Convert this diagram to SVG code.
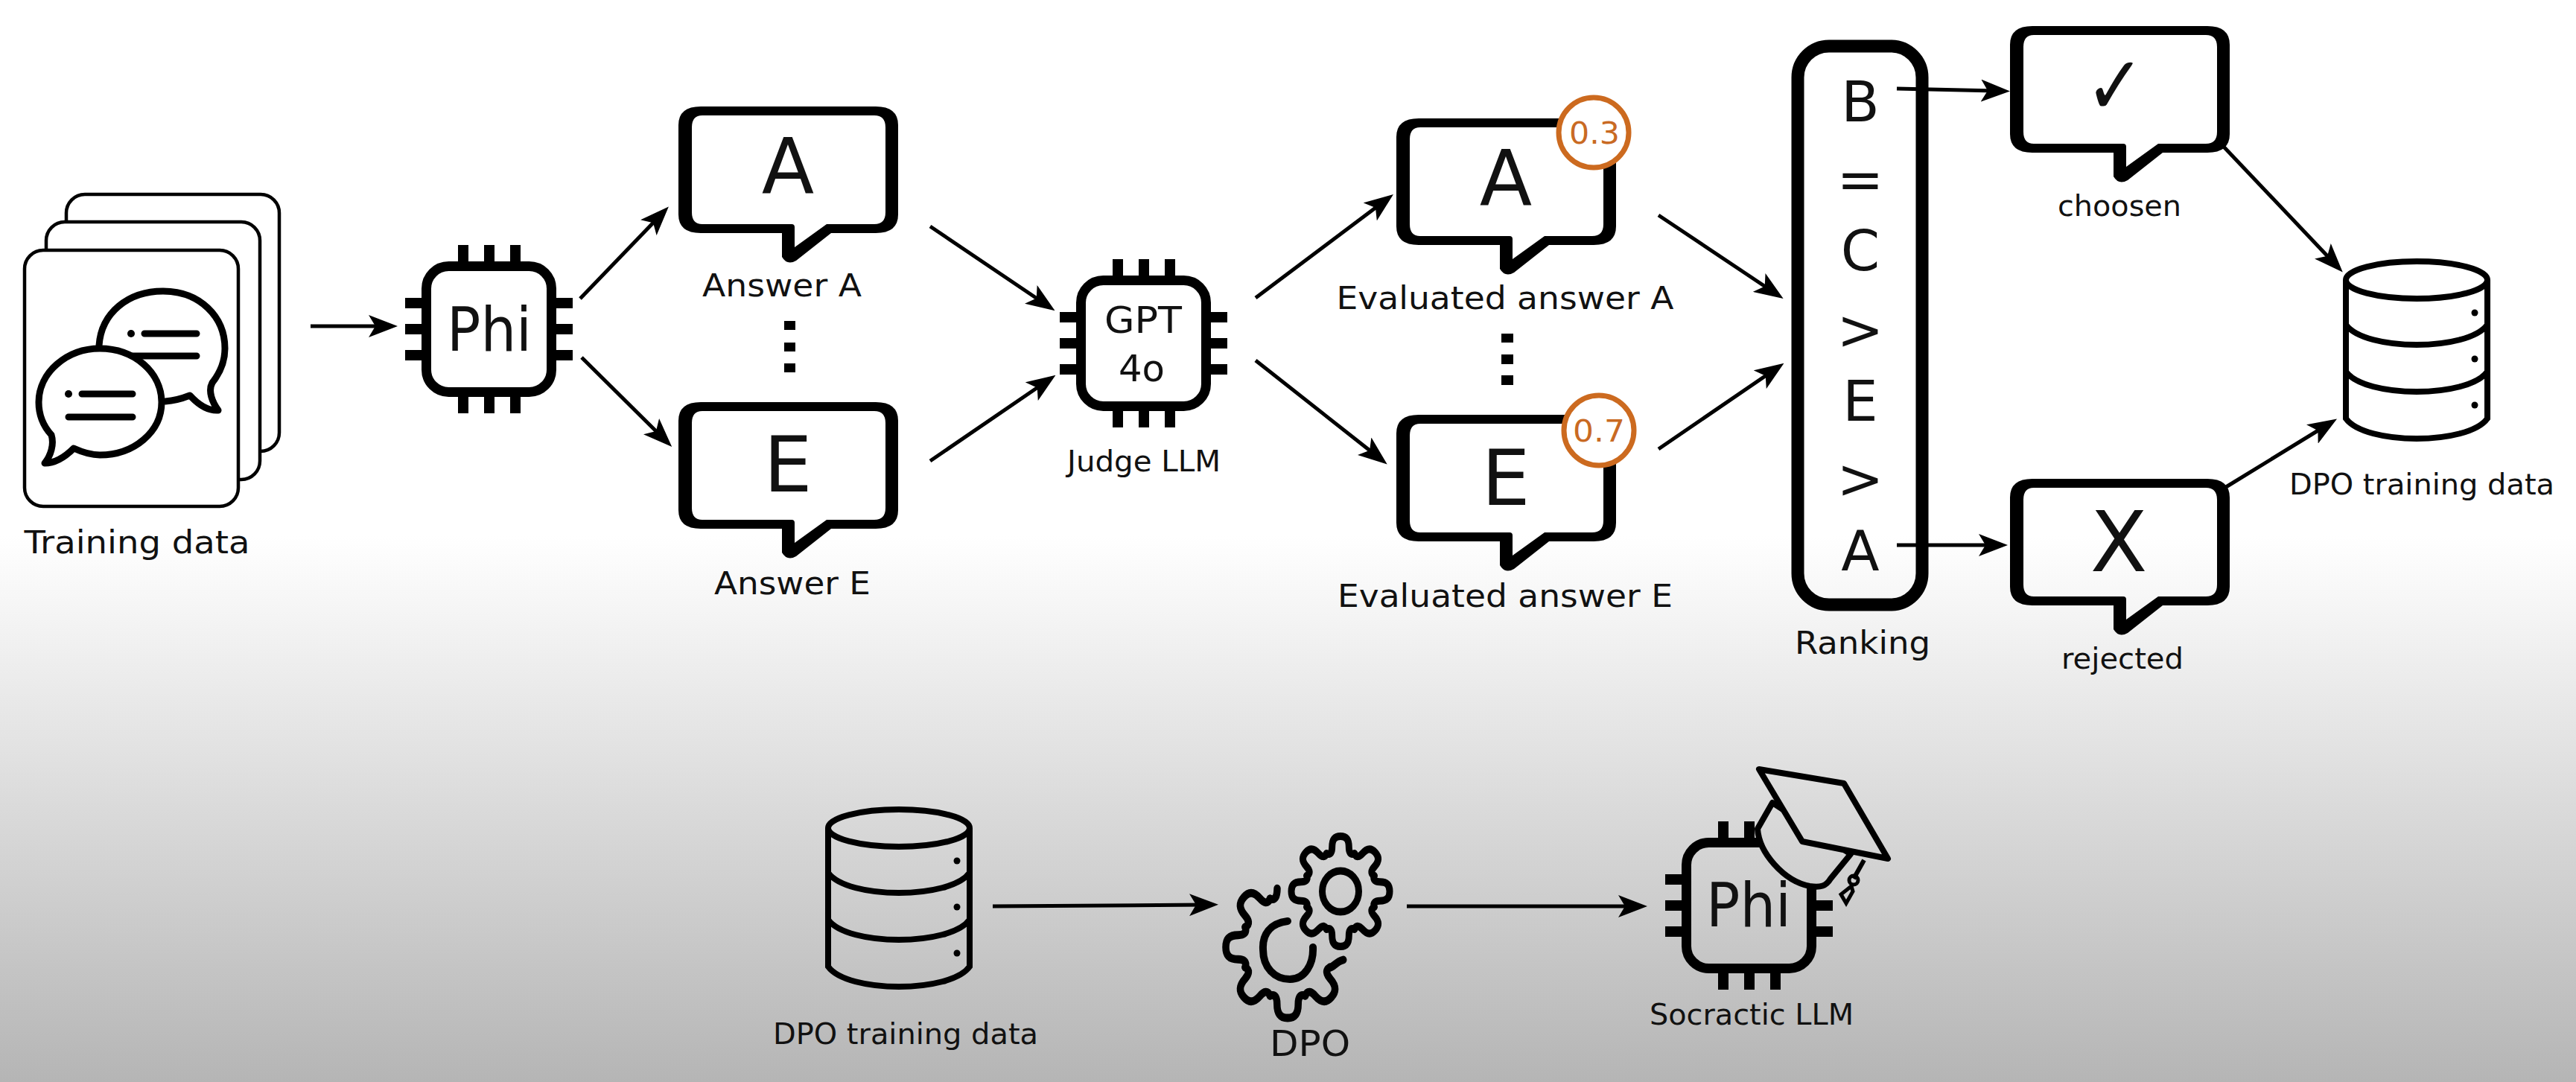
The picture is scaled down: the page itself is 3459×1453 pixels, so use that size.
<svg xmlns="http://www.w3.org/2000/svg" xmlns:xlink="http://www.w3.org/1999/xlink" width="3459" height="1453" viewBox="0 0 3459 1453">
<style>
text{font-family:"DejaVu Sans","Liberation Sans",sans-serif;fill:#111;text-anchor:middle}
.big{font-size:103px}.rk{font-size:75px}.lb{font-size:43px}.sm{font-size:39px}.ch{font-size:82px}.gp{font-size:50px}
.sc{font-size:41px;fill:#c96a23}
.card{fill:#fff;stroke:#000;stroke-width:4.5}
.ico{fill:none;stroke:#000;stroke-width:9;stroke-linecap:round;stroke-linejoin:round}
.gear{fill:none;stroke:#000;stroke-linecap:round;stroke-linejoin:round}
.badge{fill:#fff;stroke:#cc6a1f;stroke-width:7}
.cn{fill:none;stroke:#000;stroke-width:5;marker-end:url(#ah)}
.hat{fill:url(#bg);stroke:#000;stroke-width:8;stroke-linejoin:round}
</style>
<defs>
<linearGradient id="bg" gradientUnits="userSpaceOnUse" x1="0" y1="720" x2="0" y2="1453"><stop offset="0" stop-color="#fff"/><stop offset="1" stop-color="#b5b5b5"/></linearGradient>
<marker id="ah" markerUnits="userSpaceOnUse" markerWidth="39" markerHeight="30" refX="19" refY="15" orient="auto"><path d="M0,0L39,15L0,30L9,15Z"/></marker>
<path id="bubble" fill-rule="evenodd" d="M30,0H265Q295,0 295,25V145Q295,170 265,170H205L158,207Q146,214 139,202V170H30Q0,170 0,145V25Q0,0 30,0ZM32,12H263Q278,12 278,28V142Q278,158 263,158H199L156,189V162Q156,158 152,158H32Q18,158 18,142V28Q18,12 32,12Z"/>
<rect id="chipbody" x="6.5" y="6.5" width="168" height="169" rx="30" fill="none" stroke="#000" stroke-width="13"/>
<g id="chip"><use href="#chipbody"/>
<path d="M49-22h14v22h-14zM84-22h14v22h-14zM119-22h14v22h-14zM49,182h14v22h-14zM84,182h14v22h-14zM119,182h14v22h-14zM-22,49h22v14h-22zM-22,84h22v14h-22zM-22,119h22v14h-22zM181,49h22v14h-22zM181,84h22v14h-22zM181,119h22v14h-22z"/></g>
<g id="cyl"><g fill="none" stroke="#000" stroke-width="8"><ellipse cx="99" cy="29" rx="95" ry="25"/><path d="M4,29V215C30,251 168,251 194,215V29M4,89C30,125 168,125 194,89M4,152C30,188 168,188 194,152"/></g><circle cx="177" cy="73" r="4.5"/><circle cx="177" cy="135" r="4.5"/><circle cx="177" cy="197" r="4.5"/></g>
<path id="tooth" d="M-19.9,-48C-14,-46-12,-50-12,-56C-12,-66-8,-70 0,-70C8,-70 12,-66 12,-56C12,-50 14,-46 19.9,-48"/>
</defs>
<rect width="3459" height="1453" fill="url(#bg)"/>

<g id="training-data">
<rect class="card" x="89" y="261" width="286" height="345" rx="25"/>
<rect class="card" x="62" y="298" width="287" height="346" rx="25"/>
<rect class="card" x="33" y="336" width="287" height="344" rx="25"/>
<path class="ico" d="M133,464C136,420 172,391 219,391C268,391 302,425 302,468C302,485 296,500 285,514C279,525 285,540 293,551C278,552 265,542 255,531C245,535 235,538 222,539"/>
<path class="ico" d="M194,448H264M178,478H264"/>
<circle cx="176" cy="448" r="5"/>
<path class="ico" style="fill:#fff" d="M134,468C90,468 52,500 52,540C52,556 58,572 69,584C73,597 68,612 60,622C74,622 88,613 99,602C110,607 122,611 134,611C180,611 217,580 217,540C217,500 180,468 134,468Z"/>
<path class="ico" d="M110,529H178M92,560H178"/>
<circle cx="92" cy="529" r="5"/>
<text class="lb" x="184" y="743" textLength="303" lengthAdjust="spacingAndGlyphs">Training data</text>
</g>

<g id="phi"><use href="#chip" x="566" y="351"/><text class="ch" x="657" y="471" textLength="114" lengthAdjust="spacingAndGlyphs">Phi</text></g>

<g id="answer-a"><use href="#bubble" x="911" y="143"/><text class="big" x="1058" y="259">A</text><text class="lb" x="1050" y="398" textLength="214" lengthAdjust="spacingAndGlyphs">Answer A</text></g>
<g id="dots-1"><path d="M1053,431h15v12h-15zM1053,460h15v12h-15zM1053,488h15v12h-15z"/></g>
<g id="answer-e"><use href="#bubble" x="911" y="540"/><text class="big" x="1058" y="660">E</text><text class="lb" x="1064" y="798" textLength="210" lengthAdjust="spacingAndGlyphs">Answer E</text></g>

<g id="judge"><use href="#chip" x="1445" y="370"/><text class="gp" x="1535" y="447" textLength="104" lengthAdjust="spacingAndGlyphs">GPT</text><text class="gp" x="1533" y="512" textLength="62" lengthAdjust="spacingAndGlyphs">4o</text><text class="sm" x="1536" y="633" textLength="206" lengthAdjust="spacingAndGlyphs">Judge LLM</text></g>

<g id="evaluated-a"><use href="#bubble" x="1875" y="159"/><circle class="badge" cx="2140" cy="178" r="47"/><text class="sc" x="2141" y="193" textLength="68" lengthAdjust="spacingAndGlyphs">0.3</text><text class="big" x="2022" y="275">A</text><text class="lb" x="2021" y="415" textLength="453" lengthAdjust="spacingAndGlyphs">Evaluated answer A</text></g>
<g id="dots-2"><path d="M2016,448h16v12h-16zM2016,476h16v13h-16zM2016,504h16v13h-16z"/></g>
<g id="evaluated-e"><use href="#bubble" x="1875" y="557"/><circle class="badge" cx="2147" cy="578" r="47"/><text class="sc" x="2147" y="593" textLength="70" lengthAdjust="spacingAndGlyphs">0.7</text><text class="big" x="2022" y="678">E</text><text class="lb" x="2021" y="815" textLength="450" lengthAdjust="spacingAndGlyphs">Evaluated answer E</text></g>

<g id="ranking"><rect x="2414" y="62" width="167" height="750" rx="42" fill="none" stroke="#000" stroke-width="17"/>
<text class="rk" x="2498" y="163">B</text><text class="rk" x="2498" y="267">=</text><text class="rk" x="2498" y="363">C</text><text class="rk" x="2498" y="469">&gt;</text><text class="rk" x="2498" y="565">E</text><text class="rk" x="2498" y="669">&gt;</text><text class="rk" x="2498" y="766">A</text>
<text class="lb" x="2501" y="878" textLength="182" lengthAdjust="spacingAndGlyphs">Ranking</text></g>

<g id="chosen"><use href="#bubble" x="2699" y="35"/><text x="2840" y="153" style="font-size:110px" textLength="80" lengthAdjust="spacingAndGlyphs">✓</text><text class="sm" x="2846" y="290" textLength="166" lengthAdjust="spacingAndGlyphs">choosen</text></g>
<g id="rejected"><use href="#bubble" x="2699" y="643"/><text x="2845" y="767" style="font-size:112px">X</text><text class="sm" x="2850" y="898" textLength="164" lengthAdjust="spacingAndGlyphs">rejected</text></g>

<g id="dpo-data-top"><use href="#cyl" x="3146" y="347"/><text class="sm" x="3252" y="664" textLength="356" lengthAdjust="spacingAndGlyphs">DPO training data</text></g>

<g id="dpo-data-bottom"><use href="#cyl" x="1108" y="1083"/><text class="sm" x="1216" y="1402" textLength="356" lengthAdjust="spacingAndGlyphs">DPO training data</text></g>

<g id="dpo">
<g class="gear" stroke-width="9.5" transform="translate(1800 1197) scale(.943 1.057)">
<use href="#tooth"/><use href="#tooth" transform="rotate(45)"/><use href="#tooth" transform="rotate(90)"/><use href="#tooth" transform="rotate(135)"/><use href="#tooth" transform="rotate(180)"/><use href="#tooth" transform="rotate(225)"/><use href="#tooth" transform="rotate(270)"/><use href="#tooth" transform="rotate(315)"/>
<circle r="26" stroke-width="9.5"/></g>
<g class="gear" stroke-width="8" transform="translate(1729 1272) scale(1.186 1.357)">
<use href="#tooth" transform="rotate(-45)"/><use href="#tooth" transform="rotate(-90)"/><use href="#tooth" transform="rotate(-135)"/><use href="#tooth" transform="rotate(180)"/><use href="#tooth" transform="rotate(135)"/>
<path d="M-19.9,-48C-14,-46-12,-50-11.8,-58M48,19.9C52,20 55,14 63,12.5"/></g>
<path class="gear" stroke-width="10" d="M1729,1237C1705,1240 1695,1255 1696,1275C1696,1300 1712,1315 1732,1315C1752,1315 1764,1295 1763,1272"/>
<text x="1759" y="1418" style="font-size:48px" textLength="108" lengthAdjust="spacingAndGlyphs">DPO</text>
</g>

<g id="socratic"><use href="#chipbody" x="2258" y="1125"/>
<path d="M2307,1103h14v22h-14zM2342,1103h14v22h-14zM2307,1307h14v22h-14zM2342,1307h14v22h-14zM2377,1307h14v22h-14zM2236,1174h22v14h-22zM2236,1209h22v14h-22zM2236,1244h22v14h-22zM2439,1209h22v14h-22zM2439,1244h22v14h-22z"/>
<text class="ch" x="2348" y="1244" textLength="114" lengthAdjust="spacingAndGlyphs">Phi</text><text class="sm" x="2352" y="1376" textLength="274" lengthAdjust="spacingAndGlyphs">Socractic LLM</text>
<path class="hat" d="M2380,1078L2360,1113C2362,1145 2395,1183 2430,1190C2445,1192 2452,1190 2458,1180L2485,1147Z"/>
<path class="hat" d="M2362,1033L2476,1052L2535,1153L2420,1130Z"/>
<path fill="none" stroke="#000" stroke-width="6" d="M2503,1155L2489,1180"/><circle cx="2489" cy="1182" r="6" fill="none" stroke="#000" stroke-width="5"/>
<path fill="none" stroke="#000" stroke-width="5" d="M2486,1190L2472,1201L2479,1213L2488,1197Z"/>
</g>

<g id="connectors">
<path class="cn" d="M417,438L514,438"/>
<path class="cn" d="M779,401L884,292"/>
<path class="cn" d="M781,480L888,586"/>
<path class="cn" d="M1249,304L1400,406"/>
<path class="cn" d="M1249,619L1401,515"/>
<path class="cn" d="M1686,400L1855,273"/>
<path class="cn" d="M1686,484L1847,611"/>
<path class="cn" d="M2227,289L2378,390"/>
<path class="cn" d="M2227,603L2379,499"/>
<path class="cn" d="M2547,119L2679,122"/>
<path class="cn" d="M2547,732L2676,732"/>
<path class="cn" d="M2984,195L3132,351"/>
<path class="cn" d="M2989,654L3121,573"/>
<path class="cn" d="M1333,1217L1616,1215"/>
<path class="cn" d="M1889,1217L2192,1217"/>
</g>
</svg>
